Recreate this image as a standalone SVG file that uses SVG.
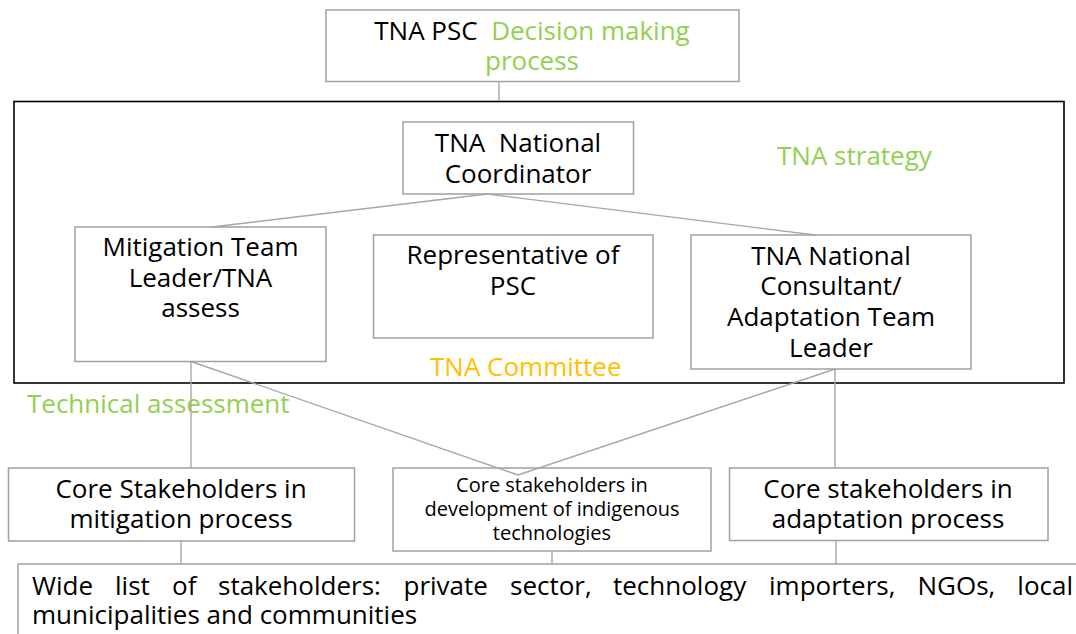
<svg xmlns="http://www.w3.org/2000/svg" width="1076" height="634" viewBox="0 0 1076 634">
<style>
text{font-family:"Open Sans","Noto Sans","Liberation Sans",sans-serif;font-size:26px;fill:#000}
.c{text-anchor:middle}
.e{text-anchor:end}
.g{fill:#92D050}
.o{fill:#FFC000}
.box{fill:#fff;stroke:#A0A0A0;stroke-width:1.5}
.frame{fill:none;stroke:#000;stroke-width:1.6}
.ln{stroke:#A6A6A6;stroke-width:1.4;fill:none}
.sm{font-size:20px}
</style>
<rect width="1076" height="634" fill="#fff"/>
<g id="strategy-frame">
<rect class="frame" x="14" y="101.5" width="1050" height="281.5"/>
<text class="g" x="777" y="165">TNA strategy</text>
<text class="o" x="430" y="376">TNA Committee</text>
</g>
<g id="psc">
<rect class="box" x="326" y="10" width="413" height="71.5"/>
<text class="c" x="532" y="40" xml:space="preserve">TNA PSC  <tspan class="g">Decision making</tspan></text>
<text class="c g" x="532" y="70">process</text>
</g>
<g id="coordinator">
<rect class="box" x="403" y="122" width="230.5" height="72"/>
<text class="c" x="518" y="152" xml:space="preserve">TNA  National</text>
<text class="c" x="518" y="183">Coordinator</text>
</g>
<g id="mitigation-leader">
<rect class="box" x="75" y="227" width="251" height="134.5"/>
<text class="c" x="200.5" y="256">Mitigation Team</text>
<text class="c" x="200.5" y="287">Leader/TNA</text>
<text class="c" x="200.5" y="317">assess</text>
</g>
<g id="psc-representative">
<rect class="box" x="373.5" y="235" width="279.5" height="103"/>
<text class="c" x="513" y="264">Representative of</text>
<text class="c" x="513" y="295">PSC</text>
</g>
<g id="adaptation-leader">
<rect class="box" x="691" y="235" width="280" height="134"/>
<text class="c" x="831" y="265">TNA National</text>
<text class="c" x="831" y="295">Consultant/</text>
<text class="c" x="831" y="326">Adaptation Team</text>
<text class="c" x="831" y="357">Leader</text>
</g>
<g id="technical-label">
<text class="g" x="27" y="413">Technical assessment</text>
</g>
<g id="core-mitigation">
<rect class="box" x="8.5" y="468" width="346" height="73"/>
<text class="c" x="181" y="498">Core Stakeholders in</text>
<text class="c" x="181" y="528">mitigation process</text>
</g>
<g id="core-indigenous">
<rect class="box" x="393" y="468" width="318" height="83"/>
<text class="c sm" x="552" y="492">Core stakeholders in</text>
<text class="c sm" x="552" y="516">development of indigenous</text>
<text class="c sm" x="552" y="540">technologies</text>
</g>
<g id="core-adaptation">
<rect class="box" x="729.5" y="468" width="318.5" height="72.5"/>
<text class="c" x="888" y="498">Core stakeholders in</text>
<text class="c" x="888" y="528">adaptation process</text>
</g>
<g id="wide-list">
<rect class="box" x="18" y="564" width="1100" height="100"/>
<text x="32" y="595">Wide</text>
<text x="115" y="595">list</text>
<text x="172" y="595">of</text>
<text x="218" y="595">stakeholders:</text>
<text x="403.5" y="595">private</text>
<text x="510" y="595">sector,</text>
<text x="613" y="595">technology</text>
<text x="769" y="595">importers,</text>
<text x="917.5" y="595">NGOs,</text>
<text class="e" x="1073" y="595">local</text>
<text x="32" y="624">municipalities and communities</text>
</g>
<g id="connectors">
<line class="ln" x1="499" y1="81.5" x2="499" y2="101"/>
<line class="ln" x1="487" y1="194" x2="212" y2="227"/>
<line class="ln" x1="487" y1="194" x2="815" y2="235"/>
<line class="ln" x1="191" y1="361.5" x2="191" y2="468"/>
<line class="ln" x1="191" y1="361.5" x2="518" y2="475"/>
<line class="ln" x1="835" y1="369" x2="518" y2="475"/>
<line class="ln" x1="835" y1="369" x2="835" y2="468"/>
<line class="ln" x1="181" y1="541" x2="181" y2="564"/>
<line class="ln" x1="552" y1="551" x2="552" y2="564"/>
<line class="ln" x1="836" y1="540.5" x2="836" y2="564"/>
</g>
</svg>
